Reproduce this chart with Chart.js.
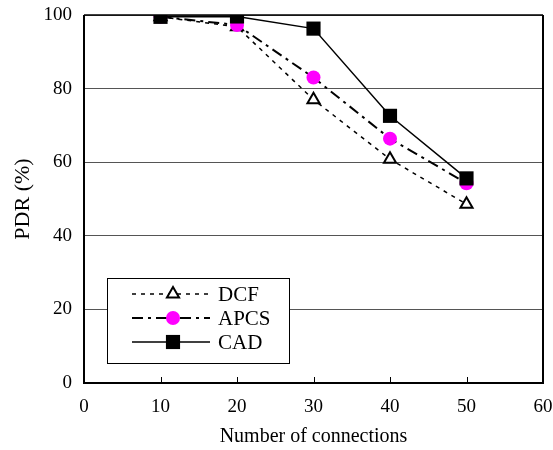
<!DOCTYPE html>
<html>
<head>
<meta charset="utf-8">
<script src="https://cdn.jsdelivr.net/npm/chart.js@4.4.0/dist/chart.umd.min.js"></script>
<style>
  html, body { margin: 0; padding: 0; background: #fff; }
  #wrap { width: 553px; height: 450px; position: relative; }
</style>
</head>
<body>
<div id="wrap"><canvas id="pdrChart"></canvas></div>
<script>
// values
const connections = [10, 20, 30, 40, 50];
const dcf  = [99.5, 96.8, 77.0, 60.8, 48.6];
const apcs = [99.5, 97.3, 83.0, 66.4, 54.3];
const cad  = [99.5, 99.6, 96.3, 72.6, 55.6];
const seriesNames = ['DCF', 'APCS', 'CAD'];
const xTicks = [0, 10, 20, 30, 40, 50, 60];
const yTicks = [0, 20, 40, 60, 80, 100];

const serif = "'Liberation Serif', 'Times New Roman', serif";

function toPoints(ys) {
    return connections.map((c, i) => ({x: c, y: ys[i]}));
}

// draws the plot frame and the small inward ticks on the x axis
const framePlugin = {
    id: 'frame',
    afterDatasetsDraw(chart) {
        const {ctx, chartArea: a, scales} = chart;
        ctx.save();
        ctx.strokeStyle = '#000';
        ctx.lineWidth = 2;
        ctx.beginPath();
        ctx.moveTo(a.left, a.top);
        ctx.lineTo(a.left, a.bottom);
        ctx.lineTo(a.right, a.bottom);
        ctx.lineTo(a.right, a.top);
        ctx.stroke();
        ctx.lineWidth = 1.5;
        ctx.beginPath();
        ctx.moveTo(a.left, a.top);
        ctx.lineTo(a.right, a.top);
        ctx.stroke();
        ctx.lineWidth = 1;
        xTicks.slice(1, -1).forEach(v => {
            const px = Math.round(scales.x.getPixelForValue(v)) + 0.5;
            ctx.beginPath();
            ctx.moveTo(px, a.bottom);
            ctx.lineTo(px, a.bottom - 6);
            ctx.stroke();
        });
        ctx.restore();
    }
};

function drawMarker(ctx, ds, x, y) {
    const r = ds.pointRadius;
    ctx.fillStyle = ds.pointBackgroundColor;
    ctx.strokeStyle = ds.pointBorderColor;
    ctx.lineWidth = ds.pointBorderWidth;
    ctx.beginPath();
    if (ds.pointStyle === 'triangle') {
        ctx.moveTo(x, y - r);
        ctx.lineTo(x + r * Math.sin(Math.PI * 2 / 3), y - r * Math.cos(Math.PI * 2 / 3));
        ctx.lineTo(x + r * Math.sin(Math.PI * 4 / 3), y - r * Math.cos(Math.PI * 4 / 3));
        ctx.closePath();
    } else if (ds.pointStyle === 'rect') {
        const s = Math.SQRT1_2 * r;
        ctx.rect(x - s, y - s, 2 * s, 2 * s);
    } else {
        ctx.arc(x, y, r, 0, Math.PI * 2);
    }
    ctx.fill();
    if (ds.pointBorderWidth) ctx.stroke();
}

// boxed legend sitting inside the plot, lower left
const boxLegend = {
    id: 'boxLegend',
    afterDraw(chart) {
        const {ctx, chartArea: a} = chart;
        const bx = a.left + 23, by = a.bottom - 105, bw = 182, bh = 85;
        ctx.save();
        ctx.fillStyle = '#fff';
        ctx.fillRect(bx, by, bw, bh);
        ctx.strokeStyle = '#000';
        ctx.lineWidth = 1;
        ctx.strokeRect(bx + 0.5, by + 0.5, bw, bh);
        chart.data.datasets.forEach((ds, i) => {
            const y = by + 16 + i * 24;
            ctx.strokeStyle = ds.borderColor;
            ctx.lineWidth = ds.borderWidth;
            ctx.setLineDash(ds.borderDash || []);
            ctx.beginPath();
            ctx.moveTo(bx + 25, y);
            ctx.lineTo(bx + 103, y);
            ctx.stroke();
            ctx.setLineDash([]);
            drawMarker(ctx, ds, bx + 66, y);
            ctx.fillStyle = '#000';
            ctx.font = '21px ' + serif;
            ctx.textBaseline = 'middle';
            ctx.fillText(ds.label, bx + 111, y + 1);
        });
        ctx.restore();
    }
};

const chart = new Chart(document.getElementById('pdrChart'), {
    type: 'line',
    data: {
        datasets: [
            {
                label: seriesNames[0],
                data: toPoints(dcf),
                order: 3,
                borderColor: '#000',
                borderWidth: 1.5,
                borderDash: [4, 5],
                pointStyle: 'triangle',
                pointRadius: 7,
                pointBackgroundColor: '#fff',
                pointBorderColor: '#000',
                pointBorderWidth: 2
            },
            {
                label: seriesNames[1],
                data: toPoints(apcs),
                order: 2,
                borderColor: '#000',
                borderWidth: 2,
                borderDash: [11, 5, 3, 5],
                pointStyle: 'circle',
                pointRadius: 7,
                pointBackgroundColor: '#ff00ff',
                pointBorderColor: '#ff00ff',
                pointBorderWidth: 0
            },
            {
                label: seriesNames[2],
                data: toPoints(cad),
                order: 1,
                borderColor: '#000',
                borderWidth: 1.5,
                pointStyle: 'rect',
                pointRadius: 10,
                pointBackgroundColor: '#000',
                pointBorderColor: '#000',
                pointBorderWidth: 0
            }
        ]
    },
    options: {
        responsive: true,
        maintainAspectRatio: false,
        animation: false,
        layout: {padding: {top: 15, right: 8, left: 0, bottom: 0}},
        plugins: {
            legend: {display: false},
            tooltip: {enabled: false}
        },
        scales: {
            x: {
                type: 'linear',
                min: 0,
                max: 60,
                afterBuildTicks: s => { s.ticks = xTicks.map(v => ({value: v})); },
                afterFit: s => { s.height = 67; s.paddingLeft = 0; s.paddingRight = 0; },
                grid: {display: false, drawTicks: false},
                border: {display: false},
                ticks: {color: '#000', padding: 13, font: {family: serif, size: 19}},
                title: {
                    display: true,
                    text: 'Number of connections',
                    color: '#000',
                    font: {family: serif, size: 20},
                    padding: {top: 4, bottom: 1}
                }
            },
            y: {
                min: 0,
                max: 100,
                afterBuildTicks: s => { s.ticks = yTicks.map(v => ({value: v})); },
                afterFit: s => { s.width = 84; s.paddingTop = 0; s.paddingBottom = 0; },
                grid: {color: '#555', lineWidth: 1, drawTicks: false},
                border: {display: false},
                ticks: {color: '#000', padding: 12, font: {family: serif, size: 19}},
                title: {
                    display: true,
                    text: 'PDR (%)',
                    color: '#000',
                    font: {family: serif, size: 22},
                    padding: {top: 10, bottom: 0}
                }
            }
        }
    },
    plugins: [framePlugin, boxLegend]
});
</script>
</body>
</html>
